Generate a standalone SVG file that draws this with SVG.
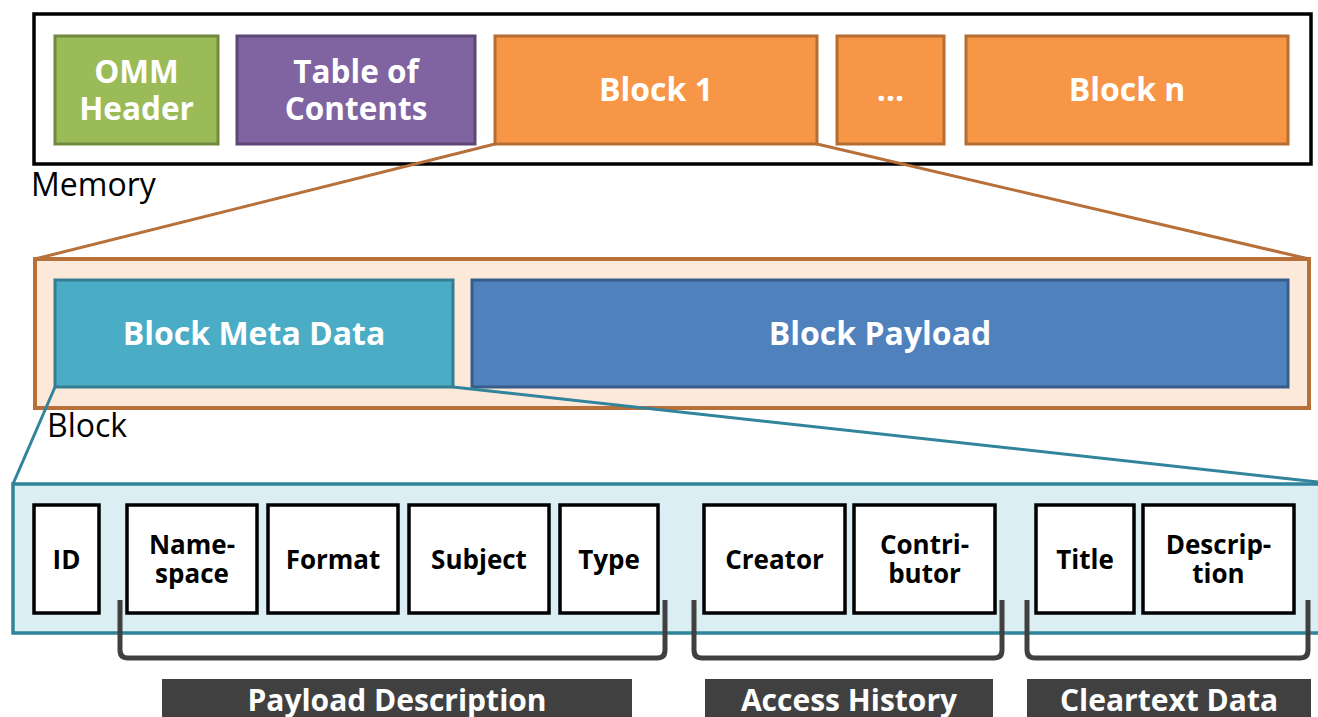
<svg xmlns="http://www.w3.org/2000/svg" width="1318" height="717" viewBox="0 0 1318 717">
  <style>
    .lbl { font-family: "Open Sans", "Liberation Sans", sans-serif; font-weight: 700; fill: #ffffff; text-anchor: middle; }
    .big { font-size: 32px; }
    .two { font-size: 31.5px; }
    .cap { font-family: "Open Sans", "Liberation Sans", sans-serif; font-size: 32px; fill: #000000; }
    .fld rect { fill: #ffffff; stroke: #000000; stroke-width: 3.5; }
    .fld text { font-family: "Open Sans", "Liberation Sans", sans-serif; font-weight: 700; font-size: 26px; fill: #000000; text-anchor: middle; }
    .brk { fill: none; stroke: #404040; stroke-width: 5; stroke-linejoin: round; }
    .tag rect { fill: #404040; }
    .tag text { font-family: "Open Sans", "Liberation Sans", sans-serif; font-weight: 700; font-size: 30px; fill: #ffffff; text-anchor: middle; }
  </style>

  <!-- Memory layout -->
  <g id="memory">
    <rect x="34" y="14" width="1277" height="150" fill="#ffffff" stroke="#000000" stroke-width="3.5"/>
    <text class="cap" x="31" y="196">Memory</text>
  </g>
  <g id="omm-header">
    <rect x="55" y="36" width="163" height="108" fill="#9BBB59" stroke="#71893F" stroke-width="3"/>
    <text class="lbl two" x="136.5" y="83">OMM</text>
    <text class="lbl two" x="136.5" y="120">Header</text>
  </g>
  <g id="toc">
    <rect x="237" y="36" width="238" height="108" fill="#8064A2" stroke="#5C4776" stroke-width="3"/>
    <text class="lbl two" x="356" y="83">Table of</text>
    <text class="lbl two" x="356" y="120">Contents</text>
  </g>
  <g id="block-1">
    <rect x="495" y="36" width="322" height="108" fill="#F79646" stroke="#B66D31" stroke-width="3"/>
    <text class="lbl big" x="656" y="101">Block 1</text>
  </g>
  <g id="block-dots">
    <rect x="837" y="36" width="107" height="108" fill="#F79646" stroke="#B66D31" stroke-width="3"/>
    <text class="lbl big" x="890.5" y="101">...</text>
  </g>
  <g id="block-n">
    <rect x="966" y="36" width="322" height="108" fill="#F79646" stroke="#B66D31" stroke-width="3"/>
    <text class="lbl big" x="1127" y="101">Block n</text>
  </g>

  <!-- Block layout -->
  <g id="block">
    <rect x="35" y="259" width="1274" height="149" fill="#FDE9D9" stroke="#B7703A" stroke-width="4"/>
    <text class="cap" x="47" y="437">Block</text>
  </g>
  <g id="block-meta-data">
    <rect x="55" y="280" width="398" height="107" fill="#4BACC6" stroke="#357D91" stroke-width="3"/>
    <text class="lbl big" x="254" y="345">Block Meta Data</text>
  </g>
  <g id="block-payload">
    <rect x="472" y="280" width="816" height="107" fill="#4F81BD" stroke="#385D8A" stroke-width="3"/>
    <text class="lbl big" x="880" y="345">Block Payload</text>
  </g>

  <!-- Meta data layout -->
  <g id="meta-data">
    <rect x="13" y="484" width="1320" height="149" fill="#DBEEF4" stroke="#31849B" stroke-width="3.5"/>
  </g>
  <g id="f-id" class="fld">
    <rect x="34" y="505" width="65" height="108"/>
    <text x="66.5" y="569">ID</text>
  </g>
  <g id="f-namespace" class="fld">
    <rect x="127" y="505" width="130" height="108"/>
    <text x="192" y="554">Name-</text>
    <text x="192" y="583">space</text>
  </g>
  <g id="f-format" class="fld">
    <rect x="268" y="505" width="130" height="108"/>
    <text x="333" y="569">Format</text>
  </g>
  <g id="f-subject" class="fld">
    <rect x="409" y="505" width="140" height="108"/>
    <text x="479" y="569">Subject</text>
  </g>
  <g id="f-type" class="fld">
    <rect x="560" y="505" width="98" height="108"/>
    <text x="609" y="569">Type</text>
  </g>
  <g id="f-creator" class="fld">
    <rect x="704" y="505" width="141" height="108"/>
    <text x="774.5" y="569">Creator</text>
  </g>
  <g id="f-contributor" class="fld">
    <rect x="854" y="505" width="141" height="108"/>
    <text x="924.5" y="554">Contri-</text>
    <text x="924.5" y="583">butor</text>
  </g>
  <g id="f-title" class="fld">
    <rect x="1036" y="505" width="98" height="108"/>
    <text x="1085" y="569">Title</text>
  </g>
  <g id="f-description" class="fld">
    <rect x="1143" y="505" width="151" height="108"/>
    <text x="1218.5" y="554">Descrip-</text>
    <text x="1218.5" y="583">tion</text>
  </g>

  <!-- Group brackets and captions -->
  <g id="payload-description">
    <path class="brk" d="M120,600 V650 Q120,658 128,658 H657 Q665,658 665,650 V600"/>
    <g class="tag">
      <rect x="162" y="679" width="470" height="45"/>
      <text x="397" y="711">Payload Description</text>
    </g>
  </g>
  <g id="access-history">
    <path class="brk" d="M694,600 V650 Q694,658 702,658 H994 Q1002,658 1002,650 V600"/>
    <g class="tag">
      <rect x="705" y="679" width="288" height="45"/>
      <text x="849" y="711">Access History</text>
    </g>
  </g>
  <g id="cleartext-data">
    <path class="brk" d="M1027,600 V650 Q1027,658 1035,658 H1300 Q1308,658 1308,650 V600"/>
    <g class="tag">
      <rect x="1027" y="679" width="284" height="45"/>
      <text x="1169" y="711">Cleartext Data</text>
    </g>
  </g>

  <!-- Zoom connectors -->
  <g id="connectors" fill="none" stroke-width="3">
    <line x1="495" y1="144" x2="35" y2="259" stroke="#B7703A"/>
    <line x1="817" y1="144" x2="1309" y2="259" stroke="#B7703A"/>
    <line x1="55" y1="387" x2="13" y2="484" stroke="#31849B"/>
    <line x1="453" y1="387" x2="1318" y2="482" stroke="#31849B"/>
  </g>
</svg>
